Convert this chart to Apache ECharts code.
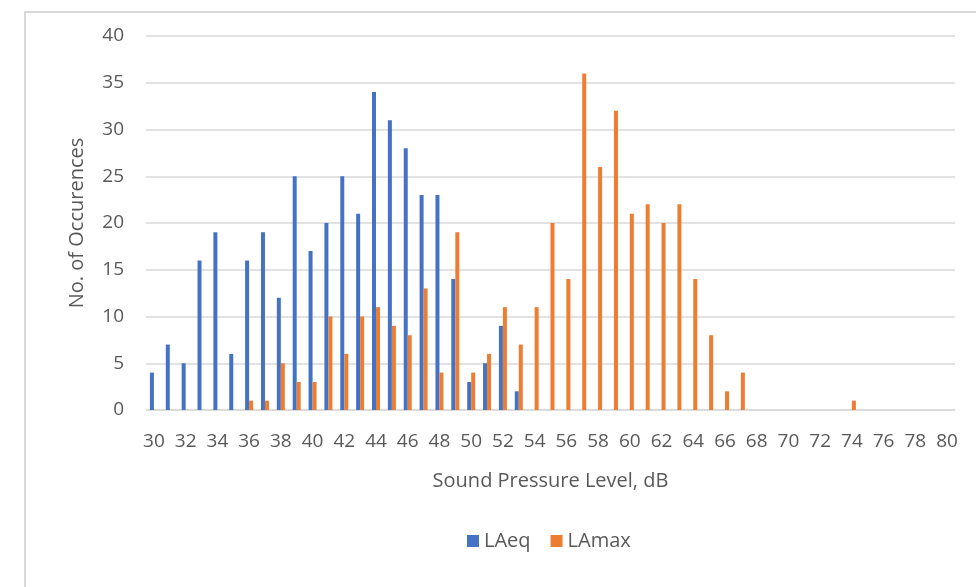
<!DOCTYPE html>
<html>
<head>
<meta charset="utf-8">
<script src="https://cdn.jsdelivr.net/npm/echarts@6/dist/echarts.min.js"></script>
<style>
  html, body { margin: 0; padding: 0; background: #fff; }
  #chart { width: 976px; height: 587px; }
</style>
</head>
<body>
<div id="chart"></div>
<script>
// Sound pressure level bins, 30 dB to 80 dB in 1 dB steps
const levels = [];
for (let db = 30; db <= 80; db++) levels.push(String(db));

// Number of occurrences per 1 dB bin
const laeqCounts = [
  4, 7, 5, 16, 19, 6, 16, 19, 12, 25,   // 30-39
  17, 20, 25, 21, 34, 31, 28, 23, 23, 14, // 40-49
  3, 5, 9, 2, 0, 0, 0, 0, 0, 0,          // 50-59
  0, 0, 0, 0, 0, 0, 0, 0, 0, 0,          // 60-69
  0, 0, 0, 0, 0, 0, 0, 0, 0, 0,          // 70-79
  0                                       // 80
];
const lamaxCounts = [
  0, 0, 0, 0, 0, 0, 1, 1, 5, 3,          // 30-39
  3, 10, 6, 10, 11, 9, 8, 13, 4, 19,     // 40-49
  4, 6, 11, 7, 11, 20, 14, 36, 26, 32,   // 50-59
  21, 22, 20, 22, 14, 8, 2, 4, 0, 0,     // 60-69
  0, 0, 0, 0, 1, 0, 0, 0, 0, 0,          // 70-79
  0                                       // 80
];

const yTicks = { min: 0, max: 40, step: 5 };

const textColor = '#595959';
const gridColor = '#d9d9d9';
const font = 'Open Sans';

const chart = echarts.init(document.getElementById('chart'), null, { renderer: 'canvas' });

chart.setOption({
  animation: false,
  backgroundColor: '#ffffff',
  textStyle: { fontFamily: font, color: textColor },
  graphic: [{
    type: 'rect',
    shape: { x: 25, y: 12, width: 1000, height: 640 },
    style: { fill: 'none', stroke: gridColor, lineWidth: 2 },
    silent: true,
    z: -1
  }],
  grid: { left: 146, right: 21, top: 36, bottom: 177, containLabel: false },
  legend: {
    left: 462,
    top: 526,
    itemWidth: 12,
    itemHeight: 12,
    itemGap: 20,
    icon: 'rect',
    textStyle: { fontFamily: font, fontSize: 20, color: textColor },
    data: ['LAeq', 'LAmax']
  },
  xAxis: {
    type: 'category',
    data: levels,
    name: 'Sound Pressure Level, dB',
    nameLocation: 'middle',
    nameGap: 61,
    nameTextStyle: { fontFamily: font, fontSize: 20, color: textColor },
    axisLine: { show: true, lineStyle: { color: gridColor, width: 1.5 } },
    axisTick: { show: false },
    axisLabel: { interval: 1, margin: 22, fontFamily: font, fontSize: 19, color: textColor },
    splitLine: { show: false }
  },
  yAxis: {
    type: 'value',
    min: yTicks.min,
    max: yTicks.max,
    interval: yTicks.step,
    name: 'No. of Occurences',
    nameLocation: 'middle',
    nameGap: 59,
    nameRotate: 90,
    nameTextStyle: { fontFamily: font, fontSize: 20, color: textColor },
    axisLine: { show: false },
    axisTick: { show: false },
    axisLabel: { margin: 22, fontFamily: font, fontSize: 19, color: textColor },
    splitLine: { show: true, lineStyle: { color: gridColor, width: 1.5 } }
  },
  series: [
    {
      name: 'LAeq',
      type: 'bar',
      data: laeqCounts,
      barWidth: 4,
      barGap: '0%',
      itemStyle: { color: '#4472C4' }
    },
    {
      name: 'LAmax',
      type: 'bar',
      data: lamaxCounts,
      barWidth: 4,
      barGap: '0%',
      itemStyle: { color: '#ED7D31' }
    }
  ]
});
</script>
</body>
</html>
